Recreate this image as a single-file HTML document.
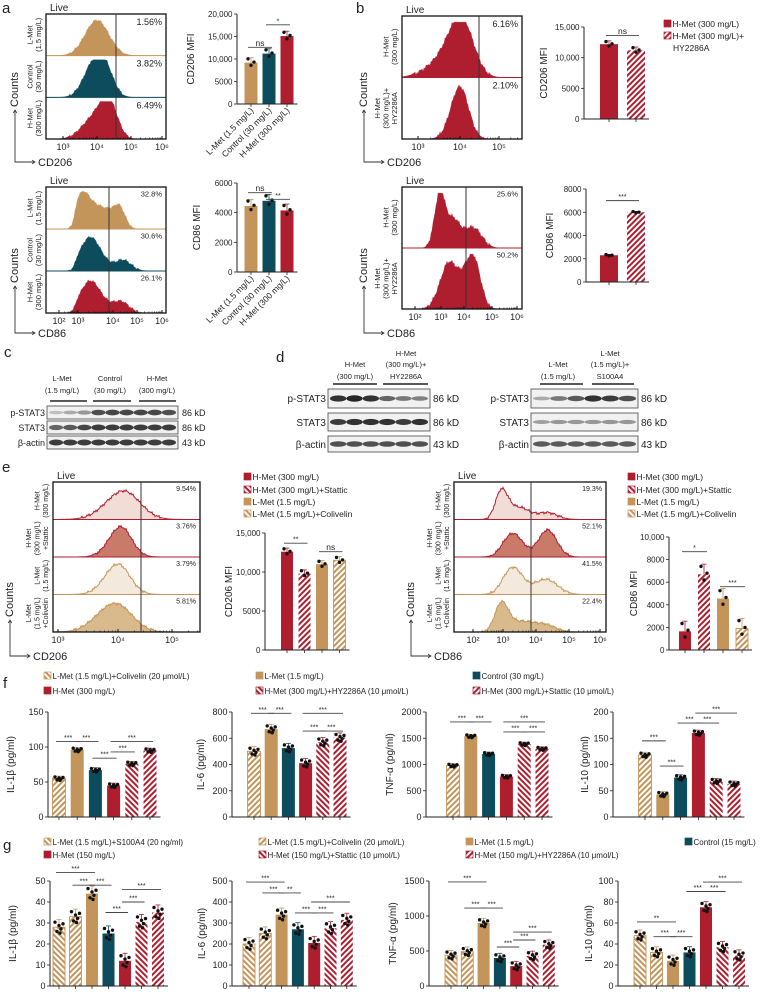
<!DOCTYPE html>
<html><head><meta charset="utf-8">
<style>
html,body{margin:0;padding:0;background:#fff;}
svg{display:block;font-family:"Liberation Sans",sans-serif;fill:#222;}
text{fill:#222;}
</style></head>
<body>
<svg id="fig" width="768" height="992" viewBox="0 0 768 992" xmlns="http://www.w3.org/2000/svg">
<defs>
<pattern id="hGoldA" patternUnits="userSpaceOnUse" width="4" height="4" patternTransform="rotate(45)"><rect width="4" height="4" fill="#fff"/><rect width="2" height="4" fill="#C4955A"/></pattern>
<pattern id="hGoldB" patternUnits="userSpaceOnUse" width="4" height="4" patternTransform="rotate(-45)"><rect width="4" height="4" fill="#fff"/><rect width="2" height="4" fill="#C4955A"/></pattern>
<pattern id="hRedA" patternUnits="userSpaceOnUse" width="4" height="4" patternTransform="rotate(45)"><rect width="4" height="4" fill="#fff"/><rect width="2" height="4" fill="#AE1E2F"/></pattern>
<pattern id="hRedB" patternUnits="userSpaceOnUse" width="4" height="4" patternTransform="rotate(-45)"><rect width="4" height="4" fill="#fff"/><rect width="2" height="4" fill="#AE1E2F"/></pattern>
</defs>
</svg>
<script>
// ---------- chart data ----------
const aCD206Values=[9200,11200,15100];
const aCD206Ticks=[0,5000,10000,15000,20000];
const aCD206TickLabels=['0','5000','10,000','15,000','20,000'];
const aCD86Values=[4450,4800,4150];
const aCD86Ticks=[0,2000,4000,6000];
const aCD86TickLabels=['0','2000','4000','6000'];
const aCategories=['L-Met (1.5 mg/L)','Control (30 mg/L)','H-Met (300 mg/L)'];
const bCD206Values=[12200,11200];
const bCD206Ticks=[0,5000,10000,15000];
const bCD206TickLabels=['0','5000','10,000','15,000'];
const bCD86Values=[2300,6000];
const bCD86Ticks=[0,2000,4000,6000,8000];
const bCD86TickLabels=['0','2000','4000','6000','8000'];
const eCD206Values=[12600,9800,11000,11500];
const eCD206Ticks=[0,5000,10000,15000];
const eCD206TickLabels=['0','5000','10,000','15,000'];
const eCD86Values=[1650,6700,4550,1900];
const eCD86Ticks=[0,2000,4000,6000,8000,10000];
const eCD86TickLabels=['0','2000','4000','6000','8000','10,000'];
const fIL1bValues=[55,96,67,45,76,95];
const fIL6Values=[500,670,525,410,570,605];
const fTNFValues=[980,1540,1200,770,1390,1300];
const fIL10Values=[118,43,75,160,68,63];
const fIL1bTicks=[0,50,100,150];
const fIL6Ticks=[0,200,400,600,800];
const fTNFTicks=[0,500,1000,1500,2000];
const fIL10Ticks=[0,50,100,150,200];
const gIL1bValues=[28,33,44,25,12,30.5,35];
const gIL6Values=[200,250,340,270,205,275,315];
const gTNFValues=[440,490,900,400,285,430,590];
const gIL10Values=[48,32,24,32,75,37,29];
const gIL1bTicks=[0,10,20,30,40,50];
const gIL6Ticks=[0,100,200,300,400,500];
const gTNFTicks=[0,500,1000,1500];
const gIL10Ticks=[0,20,40,60,80,100];

// ---------- helpers ----------
const NS='http://www.w3.org/2000/svg';
const svg=document.getElementById('fig');
const GOLD='#C4955A',TEAL='#0D4C5C',RED='#AE1E2F';
const FILL={gold:GOLD,teal:TEAL,red:RED,goldA:'url(#hGoldA)',goldB:'url(#hGoldB)',redA:'url(#hRedA)',redB:'url(#hRedB)'};
const STROKE={gold:GOLD,teal:TEAL,red:RED,goldA:GOLD,goldB:GOLD,redA:RED,redB:RED};
function mk(tag,attrs,parent){const e=document.createElementNS(NS,tag);for(const k in attrs)e.setAttribute(k,attrs[k]);(parent||svg).appendChild(e);return e;}
function txt(x,y,s,size,anchor,rot,name,parent){
  const t=mk('text',{x:x,y:y,'font-size':size,'text-anchor':anchor||'start'},parent);
  if(rot)t.setAttribute('transform','rotate('+rot+' '+x+' '+y+')');
  t.textContent=s;
  
  
  return t;
}
function fmt(v){return v>=10000?v.toLocaleString('en-US'):String(v);}

function barChart(o){
  const g=mk('g',{});
  
  
  const max=o.ticks[o.ticks.length-1];
  const y=v=>o.y0-(v/max)*(o.y0-o.yTop);
  const cx=i=>o.c0+i*o.step;
  const n=o.values.length;
  const right=cx(n-1)+o.bw/2+4;
  o.values.forEach((v,i)=>{
    const st=o.styles[i];
    const r=mk('rect',{x:cx(i)-o.bw/2,y:y(v),width:o.bw,height:o.y0-y(v),fill:FILL[st],stroke:STROKE[st],'stroke-width':st.length>4?0.9:0},g);
    
    
    const sp=max*o.spread;
    const dy=o.nd===3?[0.7,-0.5,0.1]:[0.6,-0.5,0.2,-0.2,0.4,-0.7];
    const dx=o.nd===3?[-3,0,3]:[-4,-2,0,2,4,1];
    mk('line',{x1:cx(i),x2:cx(i),y1:y(v),y2:y(v+sp*0.9),stroke:STROKE[st],'stroke-width':0.8},g);
    mk('line',{x1:cx(i)-2.5,x2:cx(i)+2.5,y1:y(v+sp*0.9),y2:y(v+sp*0.9),stroke:STROKE[st],'stroke-width':0.8},g);
    for(let k=0;k<o.nd;k++){
      const d=mk('circle',{cx:cx(i)+dx[k],cy:y(v+sp*dy[k]),r:1.7,fill:'#111'},g);
      
      
    }
    mk('line',{x1:cx(i),x2:cx(i),y1:o.y0,y2:o.y0+3,stroke:'#222','stroke-width':0.8},g);
  });
  const ya=mk('line',{x1:o.axisX,x2:o.axisX,y1:o.y0,y2:o.yTop,stroke:'#222','stroke-width':1},g);
  
  
  const xa=mk('line',{x1:o.axisX,x2:right,y1:o.y0,y2:o.y0,stroke:'#222','stroke-width':1},g);
  
  
  o.ticks.forEach((t,k)=>{
    mk('line',{x1:o.axisX-3,x2:o.axisX,y1:y(t),y2:y(t),stroke:'#222','stroke-width':0.8},g);
    txt(o.axisX-4.5,y(t)+3,o.tickLabels?o.tickLabels[k]:fmt(t),o.fs||8,'end',0,'y-tick-label',g);
  });
  txt(o.titleX,(o.y0+o.yTop)/2,o.title,o.tfs||10,'middle',-90,'y-axis-title',g);
  (o.sigs||[]).forEach(s=>{
    const yy=y(s[2]);
    mk('line',{x1:cx(s[0])-3,x2:cx(s[1])+3,y1:yy,y2:yy,stroke:'#444','stroke-width':0.9},g);
    txt((cx(s[0])+cx(s[1]))/2,yy-1.5,s[3]||'***',s[3]==='ns'?8.5:7,'middle',0,'significance-label',g);
  });
  if(o.xlabels){
    o.xlabels.forEach((l,i)=>txt(cx(i)+3,o.y0+7,l,8.5,'end',-45,'x-category-label',g));
  }
}

function hist(o){
  const g=mk('g',{});
  
  
  const [bx,by,bw,bh]=o.box;
  const n=o.rows.length, rh=bh/n;
  const tv=o.tickVals,tp=o.tickPos;
  function l2p(l){
    let i=0; while(i<tv.length-2 && l>tv[i+1]) i++;
    return tp[i]+(l-tv[i])*(tp[i+1]-tp[i])/(tv[i+1]-tv[i]);
  }
  function p2l(p){
    let i=0; while(i<tp.length-2 && p>tp[i+1]) i++;
    return tv[i]+(p-tp[i])*(tv[i+1]-tv[i])/(tp[i+1]-tp[i]);
  }
  o.rows.forEach((r,ri)=>{
    const base=by+(ri+1)*rh;
    let d='M'+bx+','+base;
    for(let p=bx;p<=bx+bw;p+=1){
      const l=p2l(p);let s=0;
      r.peaks.forEach(k=>{s+=k[2]*Math.exp(-Math.pow((l-k[0])/k[1],2)/2);});
      const jit=s>0.05?(Math.sin(p*2.7+ri)*0.025+Math.sin(p*5.3)*0.02):0;
      d+=' L'+p+','+(base-Math.min(1,s+jit)*rh*0.9).toFixed(1);
    }
    d+=' L'+(bx+bw)+','+base+' Z';
    const h=mk('path',{d:d,fill:r.fill,stroke:r.stroke||r.fill,'stroke-width':r.stroke?1:0.3},g);
    
    
    mk('line',{x1:bx,x2:bx+bw,y1:base,y2:base,stroke:r.stroke||r.fill,'stroke-width':1},g);
    txt(bx+bw-4,by+ri*rh+(o.pfs||9)+2,r.pct,o.pfs||9,'end',0,'gate-percentage',g);
    const mid=by+ri*rh+rh/2;
    r.label.forEach((line,li)=>{
      const xx=bx-5-(r.label.length-1-li)*8.5;
      txt(xx,mid,line,o.lfs||7.5,'middle',-90,'row-label',g);
    });
  });
  const box=mk('rect',{x:bx,y:by,width:bw,height:bh,fill:'none',stroke:'#111','stroke-width':1.3},g);
  
  
  const gate=mk('line',{x1:o.gate,x2:o.gate,y1:by,y2:by+bh,stroke:'#333','stroke-width':1},g);
  
  
  const sup={2:'²',3:'³',4:'⁴',5:'⁵',6:'⁶'};
  tv.forEach((t,i)=>{
    if(tp[i]<=bx+bw+1){
      mk('line',{x1:tp[i],x2:tp[i],y1:by+bh,y2:by+bh-3,stroke:'#111','stroke-width':1},g);
      txt(tp[i],by+bh+11,'10'+sup[t],9,'middle',0,'x-tick-label',g);
    }
    for(let m=2;m<10;m++){const p=l2p(t+Math.log10(m));if(p>bx&&p<bx+bw&&t<tv[tv.length-1]+1)mk('line',{x1:p,x2:p,y1:by+bh,y2:by+bh-1.6,stroke:'#111','stroke-width':0.6},g);}
  });
  txt(bx+4,by-3,'Live',10,'start',0,'gate-title',g);
  const c=o.counts;
  mk('path',{d:'M'+c.x+','+(c.top)+' L'+c.x+','+c.y+' L'+(c.x+20)+','+c.y,fill:'none',stroke:'#333','stroke-width':0.9},g);
  mk('path',{d:'M'+(c.x-1.8)+','+(c.top+3)+' L'+c.x+','+c.top+' L'+(c.x+1.8)+','+(c.top+3)+' M'+(c.x+17)+','+(c.y-1.8)+' L'+(c.x+20)+','+c.y+' L'+(c.x+17)+','+(c.y+1.8),fill:'none',stroke:'#333','stroke-width':0.8},g);
  txt(c.x+3,c.top-3,'Counts',11,'start',-90,'y-axis-title',g);
  txt(c.x+23,c.y+4,o.marker,11,'start',0,'x-axis-title',g);
}

function legend(x,y,style,label,size){
  const r=mk('rect',{x:x,y:y-7,width:7,height:7,fill:FILL[style],stroke:STROKE[style],'stroke-width':0.7});
  
  
  txt(x+8.5,y,label,size||8.5,'start',0,'legend-entry');
}

function blot(x,y,w,h,lanes,dark,name){
  const g=mk('g',{});
  
  
  mk('rect',{x:x,y:y,width:w,height:h,fill:'#f1f1f1',stroke:'#444','stroke-width':0.8},g);
  const lw=(w-4)/lanes.length;
  lanes.forEach((v,i)=>{
    mk('ellipse',{cx:x+2+lw*(i+0.5),cy:y+h/2,rx:lw*0.5,ry:1.2+v*2,fill:'#111','fill-opacity':v*dark},g);
  });
}

function panelLabel(x,y,s){txt(x,y,s,15,'start',0,'panel-label-'+s);}

// ---------- panel a ----------
panelLabel(2,13,'a');
hist({name:'a-cd206-histogram',box:[46,14,120,125],tickVals:[3,4,5,6],tickPos:[63,97,131,162],gate:116,marker:'CD206',
 counts:{x:15,top:110,y:162},
 rows:[{fill:GOLD,pct:'1.56%',label:['L-Met','(1.5 mg/L)'],peaks:[[4,0.35,0.95]]},
       {fill:TEAL,pct:'3.82%',label:['Control','(30 mg/L)'],peaks:[[3.9,0.3,0.85],[4.25,0.25,0.6]]},
       {fill:RED,pct:'6.49%',label:['H-Met','(300 mg/L)'],peaks:[[4.35,0.25,0.9],[3.9,0.35,0.55]]}]});
hist({name:'a-cd86-histogram',box:[46,187,120,126],tickVals:[2,3,4,5,6],tickPos:[59,78,113,137,162],gate:109,marker:'CD86',pfs:7.5,
 counts:{x:15,top:286,y:333},
 rows:[{fill:GOLD,pct:'32.8%',label:['L-Met','(1.5 mg/L)'],peaks:[[3.1,0.22,0.85],[3.6,0.3,0.55],[4.25,0.25,0.6]]},
       {fill:TEAL,pct:'30.6%',label:['Control','(30 mg/L)'],peaks:[[3.35,0.3,0.9],[4.4,0.35,0.3]]},
       {fill:RED,pct:'26.1%',label:['H-Met','(300 mg/L)'],peaks:[[3.35,0.3,0.85],[4.3,0.35,0.32]]}]});
barChart({name:'a-cd206-mfi-chart',values:aCD206Values,ticks:aCD206Ticks,tickLabels:aCD206TickLabels,styles:['gold','teal','red'],
 axisX:237,y0:104,yTop:14,c0:251,step:18,bw:13,nd:3,spread:0.06,title:'CD206 MFI',titleX:194,xlabels:aCategories,
 sigs:[[0,1,12600,'ns'],[1,2,17600,'*']]});
barChart({name:'a-cd86-mfi-chart',values:aCD86Values,ticks:aCD86Ticks,tickLabels:aCD86TickLabels,styles:['gold','teal','red'],
 axisX:237,y0:272,yTop:183,c0:251,step:18,bw:13,nd:3,spread:0.08,title:'CD86 MFI',titleX:200,xlabels:aCategories,
 sigs:[[0,1,5350,'ns'],[1,2,4900,'**']]});

// ---------- panel b ----------
panelLabel(356,13,'b');
hist({name:'b-cd206-histogram',box:[402,16,120,123],tickVals:[3,4,5],tickPos:[418,460,499],gate:479,marker:'CD206',
 counts:{x:364,top:110,y:162},
 rows:[{fill:RED,pct:'6.16%',label:['H-Met','(300 mg/L)'],peaks:[[4.05,0.3,0.95],[3.6,0.4,0.3]]},
       {fill:RED,pct:'2.10%',label:['H-Met','(300 mg/L)+','HY2286A'],peaks:[[4.0,0.22,0.95]]}]});
hist({name:'b-cd86-histogram',box:[402,187,120,122],tickVals:[2,3,4,5,6],tickPos:[415,441,464,492,517],gate:466,marker:'CD86',pfs:7.5,
 counts:{x:364,top:286,y:333},
 rows:[{fill:RED,pct:'25.6%',label:['H-Met','(300 mg/L)'],peaks:[[2.95,0.2,0.9],[3.5,0.35,0.55],[4.35,0.3,0.35]]},
       {fill:RED,pct:'50.2%',label:['H-Met','(300 mg/L)+','HY2286A'],peaks:[[3.3,0.35,0.8],[4.35,0.25,0.85],[3.9,0.3,0.4]]}]});
barChart({name:'b-cd206-mfi-chart',values:bCD206Values,ticks:bCD206Ticks,tickLabels:bCD206TickLabels,styles:['red','redA'],
 axisX:584,y0:119,yTop:27,c0:609,step:27,bw:18,nd:3,spread:0.04,title:'CD206 MFI',titleX:547,
 sigs:[[0,1,13600,'ns']]});
barChart({name:'b-cd86-mfi-chart',values:bCD86Values,ticks:bCD86Ticks,tickLabels:bCD86TickLabels,styles:['red','redA'],
 axisX:586,y0:282,yTop:189,c0:609,step:27,bw:18,nd:3,spread:0.01,title:'CD86 MFI',titleX:553,
 sigs:[[0,1,7000,'***']]});
legend(664,27,'red','H-Met (300 mg/L)',8.5);
legend(664,39,'redA','H-Met (300 mg/L)+',8.5);
txt(673,51,'HY2286A',8.5,'start',0,'legend-entry');

// ---------- panel c ----------
panelLabel(4,357,'c');
txt(62,381,'L-Met',7.5,'middle',0,'lane-header');txt(62,393,'(1.5 mg/L)',7.5,'middle',0,'lane-header');
txt(110,381,'Control',7.5,'middle',0,'lane-header');txt(110,393,'(30 mg/L)',7.5,'middle',0,'lane-header');
txt(157,381,'H-Met',7.5,'middle',0,'lane-header');txt(157,393,'(300 mg/L)',7.5,'middle',0,'lane-header');
[[50,87],[93,131],[139,176]].forEach(s=>mk('line',{x1:s[0],x2:s[1],y1:401,y2:401,stroke:'#222','stroke-width':1.5}));
blot(47,406,131,13,[0.25,0.35,0.45,0.8,0.85,0.85,0.85,0.85,0.8],0.9,'c-pstat3-blot');
blot(47,421,131,13,[0.7,0.75,0.85,0.9,0.9,0.9,0.9,0.9,0.9],0.9,'c-stat3-blot');
blot(47,436,131,13,[0.9,0.9,0.9,0.9,0.9,0.9,0.9,0.9,0.9],0.9,'c-bactin-blot');
[['p-STAT3',416],['STAT3',431],['β-actin',446]].forEach(r=>txt(45,r[1],r[0],9,'end',0,'blot-row-label'));
[['86 kD',416],['86 kD',431],['43 kD',446]].forEach(r=>txt(182,r[1],r[0],9,'start',0,'molecular-weight'));

// ---------- panel d ----------
panelLabel(276,362,'d');
txt(355,367,'H-Met',7.5,'middle',0,'lane-header');txt(355,379,'(300 mg/L)',7.5,'middle',0,'lane-header');
txt(406,356,'H-Met',7.5,'middle',0,'lane-header');txt(406,367,'(300 mg/L)+',7.5,'middle',0,'lane-header');txt(406,379,'HY2286A',7.5,'middle',0,'lane-header');
txt(558,367,'L-Met',7.5,'middle',0,'lane-header');txt(558,379,'(1.5 mg/L)',7.5,'middle',0,'lane-header');
txt(610,356,'L-Met',7.5,'middle',0,'lane-header');txt(610,367,'(1.5 mg/L)+',7.5,'middle',0,'lane-header');txt(610,379,'S100A4',7.5,'middle',0,'lane-header');
[[333,377],[383,428],[540,583],[592,634]].forEach(s=>mk('line',{x1:s[0],x2:s[1],y1:384,y2:384,stroke:'#222','stroke-width':1.5}));
blot(328,389,102,19,[0.95,1,0.95,0.7,0.6,0.55],0.9,'d-pstat3-blot-1');
blot(328,413,102,18,[0.9,0.95,0.95,0.95,0.9,0.95],0.9,'d-stat3-blot-1');
blot(328,436,102,16,[0.8,0.8,0.8,0.8,0.8,0.8],0.9,'d-bactin-blot-1');
blot(531,389,107,19,[0.35,0.6,0.75,0.95,0.9,0.8],0.9,'d-pstat3-blot-2');
blot(531,413,107,18,[0.4,0.45,0.45,0.45,0.45,0.45],0.9,'d-stat3-blot-2');
blot(531,436,107,16,[0.75,0.75,0.75,0.75,0.75,0.75],0.9,'d-bactin-blot-2');
[['p-STAT3',402],['STAT3',426],['β-actin',448]].forEach(r=>{txt(326,r[1],r[0],10,'end',0,'blot-row-label');txt(529,r[1],r[0],10,'end',0,'blot-row-label');});
[['86 kD',402],['86 kD',426],['43 kD',448]].forEach(r=>{txt(433,r[1],r[0],10,'start',0,'molecular-weight');txt(641,r[1],r[0],10,'start',0,'molecular-weight');});

// ---------- panel e ----------
panelLabel(2,472,'e');
hist({name:'e-cd206-histogram',box:[53,482,147,150],tickVals:[3,4,5],tickPos:[58,118,172],gate:141,marker:'CD206',pfs:7,lfs:7,
 counts:{x:10,top:620,y:656},
 rows:[{fill:'#F2DDD6',stroke:RED,pct:'9.54%',label:['H-Met','(300 mg/L)'],peaks:[[4.1,0.3,0.85]]},
       {fill:'#C97A69',stroke:RED,pct:'3.76%',label:['H-Met','(300 mg/L)','+Stattic'],peaks:[[4.05,0.2,0.9]]},
       {fill:'#F3EADD',stroke:GOLD,pct:'3.79%',label:['L-Met','(1.5 mg/L)'],peaks:[[4.0,0.22,0.9]]},
       {fill:'#D9BA8C',stroke:GOLD,pct:'5.81%',label:['L-Met','(1.5 mg/L)','+Colivelin'],peaks:[[3.95,0.3,0.85]]}]});
hist({name:'e-cd86-histogram',box:[454,482,152,150],tickVals:[2,3,4,5,6],tickPos:[473,503,536,569,600],gate:531,marker:'CD86',pfs:7,lfs:7,
 counts:{x:411,top:620,y:656},
 rows:[{fill:'#F2DDD6',stroke:RED,pct:'19.3%',label:['H-Met','(300 mg/L)'],peaks:[[2.95,0.2,0.85],[3.5,0.3,0.35],[4.35,0.3,0.2]]},
       {fill:'#C97A69',stroke:RED,pct:'52.1%',label:['H-Met','(300 mg/L)','+Stattic'],peaks:[[3.3,0.3,0.7],[4.35,0.28,0.8]]},
       {fill:'#F3EADD',stroke:GOLD,pct:'41.5%',label:['L-Met','(1.5 mg/L)'],peaks:[[3.3,0.3,0.8],[4.3,0.35,0.45]]},
       {fill:'#D9BA8C',stroke:GOLD,pct:'22.4%',label:['L-Met','(1.5 mg/L)','+Colivelin'],peaks:[[2.95,0.22,0.85],[3.6,0.35,0.3],[4.3,0.3,0.2]]}]});
legend(244,480,'red','H-Met (300 mg/L)');
legend(244,493,'redB','H-Met (300 mg/L)+Stattic');
legend(244,505,'gold','L-Met (1.5 mg/L)');
legend(244,517,'goldB','L-Met (1.5 mg/L)+Colivelin');
legend(628,480,'red','H-Met (300 mg/L)');
legend(628,493,'redB','H-Met (300 mg/L)+Stattic');
legend(628,505,'gold','L-Met (1.5 mg/L)');
legend(628,517,'goldB','L-Met (1.5 mg/L)+Colivelin');
barChart({name:'e-cd206-mfi-chart',values:eCD206Values,ticks:eCD206Ticks,tickLabels:eCD206TickLabels,styles:['red','redA','gold','goldA'],
 axisX:265,y0:650,yTop:533,c0:287,step:17.5,bw:12,nd:3,spread:0.035,title:'CD206 MFI',titleX:232,
 sigs:[[0,1,13700,'**'],[2,3,12600,'ns']]});
barChart({name:'e-cd86-mfi-chart',values:eCD86Values,ticks:eCD86Ticks,tickLabels:eCD86TickLabels,styles:['red','redA','gold','goldA'],
 axisX:669,y0:650,yTop:537,c0:685,step:19,bw:12,nd:3,spread:0.1,title:'CD86 MFI',titleX:637,
 sigs:[[0,1,8700,'*'],[2,3,5600,'***']]});

// ---------- panel f ----------
panelLabel(3,688,'f');
legend(44,679,'goldB','L-Met (1.5 mg/L)+Colivelin (20 μmol/L)',8);
legend(256,679,'gold','L-Met (1.5 mg/L)',8);
legend(473,679,'teal','Control (30 mg/L)',8);
legend(44,694,'red','H-Met (300 mg/L)',8);
legend(256,694,'redB','H-Met (300 mg/L)+HY2286A (10 μmol/L)',8);
legend(473,694,'redA','H-Met (300 mg/L)+Stattic (10 μmol/L)',8);
const fStyles=['goldA','gold','teal','red','redB','redA'];
barChart({name:'f-il1b-chart',values:fIL1bValues,ticks:fIL1bTicks,styles:fStyles,axisX:48,y0:817,yTop:712,c0:59,step:18.2,bw:13,nd:6,spread:0.025,
 title:'IL-1β (pg/ml)',titleX:14,fs:9,sigs:[[0,1,108],[1,2,108],[2,3,84],[3,4,93],[3,5,108]]});
barChart({name:'f-il6-chart',values:fIL6Values,ticks:fIL6Ticks,styles:fStyles,axisX:232,y0:817,yTop:712,c0:254,step:17.2,bw:13,nd:6,spread:0.05,
 title:'IL-6 (pg/ml)',titleX:204,fs:9,sigs:[[0,1,790],[1,2,790],[3,5,790],[3,4,655],[4,5,655]]});
barChart({name:'f-tnfa-chart',values:fTNFValues,ticks:fTNFTicks,styles:fStyles,axisX:426,y0:817,yTop:712,c0:453,step:17.8,bw:13,nd:6,spread:0.02,
 title:'TNF-α (pg/ml)',titleX:393,fs:9,sigs:[[0,1,1810],[1,2,1810],[3,5,1810],[3,4,1620],[4,5,1620]]});
barChart({name:'f-il10-chart',values:fIL10Values,ticks:fIL10Ticks,styles:fStyles,axisX:613,y0:817,yTop:712,c0:645,step:17.8,bw:13,nd:6,spread:0.03,
 title:'IL-10 (pg/ml)',titleX:588,fs:9,sigs:[[0,1,145],[1,2,97],[2,3,179],[3,4,179],[3,5,198]]});

// ---------- panel g ----------
panelLabel(3,850,'g');
legend(44,845,'goldB','L-Met (1.5 mg/L)+S100A4 (20 ng/ml)',8);
legend(259,845,'goldA','L-Met (1.5 mg/L)+Colivelin (20 μmol/L)',8);
legend(466,845,'gold','L-Met (1.5 mg/L)',8);
legend(685,845,'teal','Control (15 mg/L)',8);
legend(44,858,'red','H-Met (150 mg/L)',8);
legend(259,858,'redB','H-Met (150 mg/L)+Stattic (10 μmol/L)',8);
legend(466,858,'redA','H-Met (150 mg/L)+HY2286A (10 μmol/L)',8);
const gStyles=['goldB','goldA','gold','teal','red','redB','redA'];
barChart({name:'g-il1b-chart',values:gIL1bValues,ticks:gIL1bTicks,styles:gStyles,axisX:50,y0:986,yTop:881,c0:59,step:16.5,bw:12,nd:6,spread:0.08,
 title:'IL-1β (pg/ml)',titleX:16,fs:9,sigs:[[0,2,54],[1,2,48],[2,3,48],[3,4,35],[4,5,40],[4,6,46]]});
barChart({name:'g-il6-chart',values:gIL6Values,ticks:gIL6Ticks,styles:gStyles,axisX:232,y0:986,yTop:881,c0:249,step:16.3,bw:12,nd:6,spread:0.07,
 title:'IL-6 (pg/ml)',titleX:205,fs:9,sigs:[[0,2,495],[1,2,443],[2,3,443,'**'],[3,4,348],[4,5,348],[4,6,400]]});
barChart({name:'g-tnfa-chart',values:gTNFValues,ticks:gTNFTicks,styles:gStyles,axisX:429,y0:986,yTop:881,c0:451,step:16.3,bw:12,nd:6,spread:0.05,
 title:'TNF-α (pg/ml)',titleX:396,fs:9,sigs:[[0,2,1486],[1,2,1114],[2,3,1114],[3,4,557],[4,5,657],[4,6,771]]});
barChart({name:'g-il10-chart',values:gIL10Values,ticks:gIL10Ticks,styles:gStyles,axisX:618,y0:986,yTop:881,c0:640,step:16.5,bw:12,nd:6,spread:0.06,
 title:'IL-10 (pg/ml)',titleX:592,fs:9,sigs:[[0,2,61,'**'],[1,2,47],[2,3,47],[3,4,90],[4,5,90],[4,6,99]]});
</script>
</body></html>
